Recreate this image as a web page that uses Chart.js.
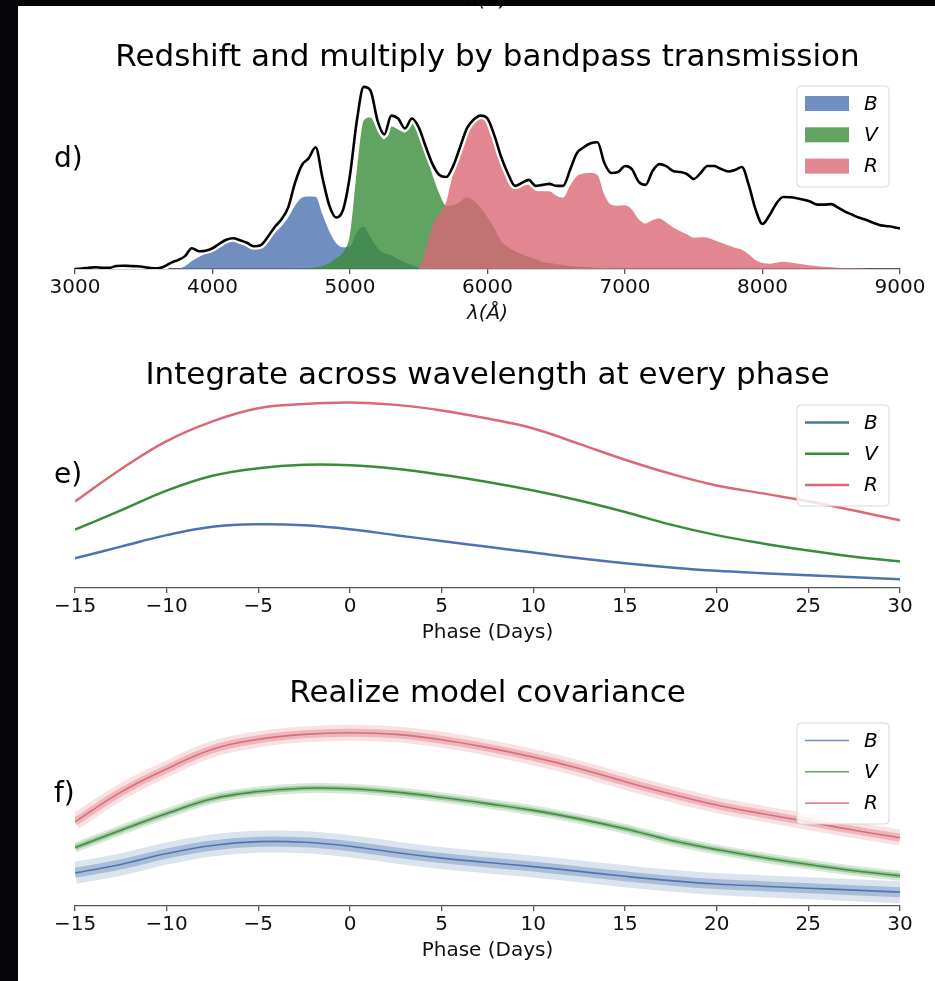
<!DOCTYPE html>
<html>
<head>
<meta charset="utf-8">
<title>Bandpass light curves</title>
<script src="https://cdn.jsdelivr.net/npm/chart.js@4.4.1/dist/chart.umd.min.js"></script>
<style>
  html, body { margin: 0; padding: 0; background: #050509; width: 935px; height: 981px; overflow: hidden; }
  #page { position: absolute; left: 18px; top: 6px; width: 917px; height: 975px; background: #fff; }
  canvas { position: absolute; left: 0; }
</style>
</head>
<body>
<div id="page"></div>
<canvas id="specChart" width="935" height="345" style="top:0px"></canvas>
<canvas id="phaseChart" width="935" height="310" style="top:345px"></canvas>
<canvas id="covChart" width="935" height="326" style="top:655px"></canvas>
<script>
// spectrum sampled every 50 A from 3000 to 9000
var waveStart = 3000;
var waveStep = 50;
var specFlux = [
    0, 0.005, 0.012, 0.017, 0.012, 0.012, 0.03, 0.033, 0.03, 0.027,
    0.02, 0.01, 0.007, 0.025, 0.065, 0.09, 0.13, 0.21, 0.18, 0.185,
    0.21, 0.255, 0.295, 0.31, 0.29, 0.265, 0.23, 0.24, 0.32, 0.42,
    0.50, 0.62, 0.87, 1.05, 1.12, 1.23, 0.92, 0.64, 0.52, 0.60,
    0.95, 1.50, 1.84, 1.80, 1.50, 1.36, 1.55, 1.52, 1.42, 1.52,
    1.43, 1.24, 1.06, 0.95, 0.93, 1.04, 1.23, 1.42, 1.51, 1.55,
    1.52, 1.35, 1.13, 0.96, 0.84, 0.87, 0.90, 0.84, 0.85, 0.86,
    0.84, 0.84, 1.00, 1.17, 1.23, 1.27, 1.28, 1.07, 0.97, 0.98,
    1.04, 1.01, 0.88, 0.85, 0.99, 1.06, 1.04, 0.99, 0.98, 0.96,
    0.91, 0.97, 1.04, 1.04, 1.01, 0.985, 1.00, 1.03, 0.85, 0.60,
    0.455, 0.54, 0.66, 0.727, 0.725, 0.715, 0.70, 0.68, 0.65, 0.65,
    0.655, 0.62, 0.58, 0.55, 0.52, 0.497, 0.47, 0.445, 0.435, 0.425,
    0.41
];

// spectrum times each bandpass, same 50 A step
var bStart = 3750;
var bFlux = [
    0, 0.027, 0.08, 0.12, 0.16, 0.19, 0.23, 0.26, 0.28, 0.26,
    0.235, 0.21, 0.22, 0.29, 0.36, 0.43, 0.52, 0.64, 0.72, 0.733,
    0.73, 0.55, 0.38, 0.26, 0.22, 0.23, 0.37, 0.43, 0.32, 0.21,
    0.16, 0.14, 0.10, 0.065, 0.04, 0.015, 0.005, 0
];
var vStart = 4650;
var vFlux = [
    0, 0.005, 0.015, 0.03, 0.06, 0.11, 0.17, 0.35, 1.00, 1.50,
    1.53, 1.40, 1.31, 1.44, 1.41, 1.38, 1.47, 1.37, 1.17, 0.95,
    0.76, 0.64, 0.645, 0.68, 0.725, 0.69, 0.62, 0.52, 0.41, 0.28,
    0.22, 0.18, 0.15, 0.12, 0.10, 0.07, 0.06, 0.05, 0.04, 0.03,
    0.025, 0.02, 0.015, 0.01, 0.01, 0.005, 0
];
var rStart = 5500;
var rFlux = [
    0, 0.18, 0.44, 0.56, 0.68, 0.97, 1.19, 1.42, 1.50, 1.53,
    1.50, 1.31, 1.10, 0.96, 0.82, 0.84, 0.85, 0.79, 0.785, 0.785,
    0.74, 0.72, 0.84, 0.94, 0.965, 0.97, 0.95, 0.75, 0.65, 0.64,
    0.643, 0.60, 0.50, 0.46, 0.495, 0.51, 0.47, 0.42, 0.385, 0.35,
    0.315, 0.32, 0.315, 0.29, 0.265, 0.24, 0.215, 0.195, 0.15, 0.09,
    0.06, 0.053, 0.063, 0.073, 0.065, 0.055, 0.045, 0.035, 0.028, 0.022,
    0.017, 0.013, 0.01, 0.007, 0.005, 0.003, 0
];

// light curves (days from peak)
var phases = [-15, -12.5, -10, -7.5, -5, -2.5, 0, 2.5, 5, 7.5, 10, 12.5, 15, 17.5, 20, 22.5, 25, 27.5, 30];
var intB = [0.150, 0.209, 0.267, 0.309, 0.322, 0.317, 0.297, 0.267, 0.237, 0.208, 0.179, 0.150, 0.125, 0.104, 0.087, 0.075, 0.064, 0.054, 0.044];
var intV = [0.295, 0.392, 0.492, 0.567, 0.605, 0.622, 0.620, 0.602, 0.572, 0.535, 0.492, 0.442, 0.384, 0.320, 0.267, 0.225, 0.189, 0.158, 0.134];
var intR = [0.437, 0.600, 0.742, 0.842, 0.908, 0.929, 0.937, 0.925, 0.897, 0.856, 0.806, 0.728, 0.648, 0.577, 0.518, 0.478, 0.438, 0.391, 0.342];

var covB = [0.167, 0.210, 0.265, 0.306, 0.325, 0.322, 0.302, 0.270, 0.242, 0.220, 0.199, 0.175, 0.150, 0.128, 0.111, 0.100, 0.090, 0.080, 0.070];
var covV = [0.295, 0.383, 0.467, 0.542, 0.578, 0.595, 0.592, 0.575, 0.548, 0.517, 0.483, 0.440, 0.390, 0.332, 0.285, 0.245, 0.210, 0.178, 0.153];
var covR = [0.425, 0.575, 0.692, 0.792, 0.842, 0.867, 0.875, 0.867, 0.840, 0.800, 0.752, 0.695, 0.628, 0.566, 0.510, 0.466, 0.425, 0.383, 0.345];

var bandNames = ['B', 'V', 'R'];
var bandRgb = ['76,114,176', '58,140,58', '219,104,117'];

Chart.defaults.font.family = '"DejaVu Sans", sans-serif';
Chart.defaults.color = '#111';
Chart.defaults.animation = false;

function wavePoints(start, values) {
    var pts = [];
    for (var i = 0; i < values.length; i++) {
        pts.push({ x: start + i * waveStep, y: values[i] });
    }
    return pts;
}

function phasePoints(values) {
    return phases.map(function(p, i) {
        return { x: p, y: values[i] };
    });
}

function rgba(i, a) {
    return 'rgba(' + bandRgb[i] + ',' + a + ')';
}

function bottomAxis(min, max, step, title, italic) {
    return {
        type: 'linear',
        min: min,
        max: max,
        border: { display: true, color: '#555', width: 1.3 },
        grid: { display: true, drawOnChartArea: false, drawTicks: true, tickLength: 5, color: '#555', lineWidth: 1.3 },
        ticks: {
            stepSize: step,
            padding: 2,
            maxRotation: 0,
            font: { size: 20 },
            color: '#111',
            callback: function(v) { return v < 0 ? '\u2212' + Math.abs(v) : String(v); }
        },
        title: {
            display: true,
            text: title,
            padding: { top: 0, bottom: 0 },
            font: { size: 20, style: italic ? 'italic' : 'normal' },
            color: '#111'
        }
    };
}

function hiddenY(max) {
    return { display: false, min: 0, max: max };
}

function panelTitle(text, padTop) {
    return {
        display: true,
        text: text,
        color: '#000',
        font: { size: 31, weight: 'normal', lineHeight: 1 },
        padding: { top: padTop, bottom: 1.5 }
    };
}

// panel letter, framed legend and the clipped label above the first panel
var panelDecor = {
    id: 'panelDecor',
    afterDraw: function(chart, args, opts) {
        var ctx = chart.ctx;
        ctx.save();
        ctx.fillStyle = '#000';
        ctx.textAlign = 'left';
        ctx.textBaseline = 'middle';
        ctx.font = '28px "DejaVu Sans"';
        ctx.fillText(opts.letter, 54, opts.letterY);

        if (opts.topLabel) {
            ctx.textAlign = 'center';
            ctx.textBaseline = 'alphabetic';
            ctx.font = 'italic 20px "DejaVu Sans"';
            ctx.fillText(opts.topLabel, 487, 6);
            ctx.textAlign = 'left';
            ctx.textBaseline = 'middle';
        }

        var bx = 797, by = opts.boxY, bw = 92, bh = 101, r = 4;
        ctx.beginPath();
        ctx.moveTo(bx + r, by);
        ctx.arcTo(bx + bw, by, bx + bw, by + bh, r);
        ctx.arcTo(bx + bw, by + bh, bx, by + bh, r);
        ctx.arcTo(bx, by + bh, bx, by, r);
        ctx.arcTo(bx, by, bx + bw, by, r);
        ctx.closePath();
        ctx.fillStyle = 'rgba(255,255,255,0.8)';
        ctx.fill();
        ctx.strokeStyle = '#d8d8d8';
        ctx.lineWidth = 1;
        ctx.stroke();

        ctx.font = 'italic 20px "DejaVu Sans"';
        opts.items.forEach(function(item, i) {
            var y = by + 17.5 + i * 31.3;
            if (item.patch) {
                ctx.fillStyle = item.color;
                ctx.fillRect(bx + 8, y - 7.5, 44, 15);
            } else {
                ctx.strokeStyle = item.color;
                ctx.lineWidth = item.width;
                ctx.beginPath();
                ctx.moveTo(bx + 8, y);
                ctx.lineTo(bx + 52, y);
                ctx.stroke();
            }
            ctx.fillStyle = '#000';
            ctx.fillText(item.label, bx + 67, y + 1);
        });
        ctx.restore();
    }
};

function legendItems(patch, alpha, width) {
    return bandNames.map(function(name, i) {
        return { label: name, color: rgba(i, alpha), patch: patch, width: width };
    });
}

// d) spectrum and bandpass-weighted flux
var specDatasets = [
    { data: wavePoints(waveStart, specFlux), borderColor: '#000', borderWidth: 2.6, order: 0 },
    { data: wavePoints(waveStart, specFlux), borderColor: '#fff', borderWidth: 7, order: 1 },
    { data: wavePoints(rStart, rFlux), borderWidth: 0, backgroundColor: rgba(2, 0.8), fill: 'origin', order: 2 },
    { data: wavePoints(vStart, vFlux), borderWidth: 0, backgroundColor: rgba(1, 0.8), fill: 'origin', order: 3 },
    { data: wavePoints(bStart, bFlux), borderWidth: 0, backgroundColor: rgba(0, 0.8), fill: 'origin', order: 4 }
];
specDatasets.forEach(function(d) {
    d.pointRadius = 0;
    d.cubicInterpolationMode = 'monotone';
    d.borderJoinStyle = 'round';
});

new Chart(document.getElementById('specChart'), {
    type: 'line',
    data: { datasets: specDatasets },
    options: {
        responsive: false,
        layout: { padding: { left: 75, right: 35, top: 0, bottom: 19 } },
        scales: {
            x: bottomAxis(3000, 9000, 1000, '\u03bb(\u00c5)', true),
            y: hiddenY(1.96)
        },
        plugins: {
            legend: { display: false },
            tooltip: { enabled: false },
            title: panelTitle('Redshift and multiply by bandpass transmission', 42.5),
            panelDecor: { letter: 'd)', letterY: 160, boxY: 86, items: legendItems(true, 0.8, 0), topLabel: '\u03bb(\u00c5)' }
        }
    },
    plugins: [panelDecor]
});

// e) integrated flux per band
var intSeries = [intB, intV, intR];
var intDatasets = intSeries.map(function(vals, i) {
    return {
        data: phasePoints(vals),
        borderColor: rgba(i, 1),
        borderWidth: 2.5,
        pointRadius: 0,
        tension: 0.4
    };
});

new Chart(document.getElementById('phaseChart'), {
    type: 'line',
    data: { datasets: intDatasets },
    options: {
        responsive: false,
        layout: { padding: { left: 75, right: 35, top: 0, bottom: 10 } },
        scales: {
            x: bottomAxis(-15, 30, 5, 'Phase (Days)', false),
            y: hiddenY(0.985)
        },
        plugins: {
            legend: { display: false },
            tooltip: { enabled: false },
            title: panelTitle('Integrate across wavelength at every phase', 15.5),
            panelDecor: { letter: 'e)', letterY: 131, boxY: 60, items: legendItems(false, 1, 2.5) }
        }
    },
    plugins: [panelDecor]
});

// f) model realizations: spread band around each mean curve
var covSeries = [covB, covV, covR];
var spread = [[22, 10], [10, 5], [16, 8]];
var covDatasets = [];
covSeries.forEach(function(vals, i) {
    covDatasets.push({ data: phasePoints(vals), borderColor: rgba(i, 0.2), borderWidth: spread[i][0], order: 2 });
    covDatasets.push({ data: phasePoints(vals), borderColor: rgba(i, 0.35), borderWidth: spread[i][1], order: 1 });
    covDatasets.push({ data: phasePoints(vals), borderColor: rgba(i, 0.95), borderWidth: 1.6, order: 0 });
});
covDatasets.forEach(function(d) {
    d.pointRadius = 0;
    d.tension = 0.4;
    d.borderJoinStyle = 'round';
    d.clip = 0;
});

new Chart(document.getElementById('covChart'), {
    type: 'line',
    data: { datasets: covDatasets },
    options: {
        responsive: false,
        layout: { padding: { left: 75, right: 35, top: 0, bottom: 18 } },
        scales: {
            x: bottomAxis(-15, 30, 5, 'Phase (Days)', false),
            y: hiddenY(0.985)
        },
        plugins: {
            legend: { display: false },
            tooltip: { enabled: false },
            title: panelTitle('Realize model covariance', 23.5),
            panelDecor: { letter: 'f)', letterY: 140, boxY: 68, items: legendItems(false, 0.8, 1.6) }
        }
    },
    plugins: [panelDecor]
});
</script>
</body>
</html>
